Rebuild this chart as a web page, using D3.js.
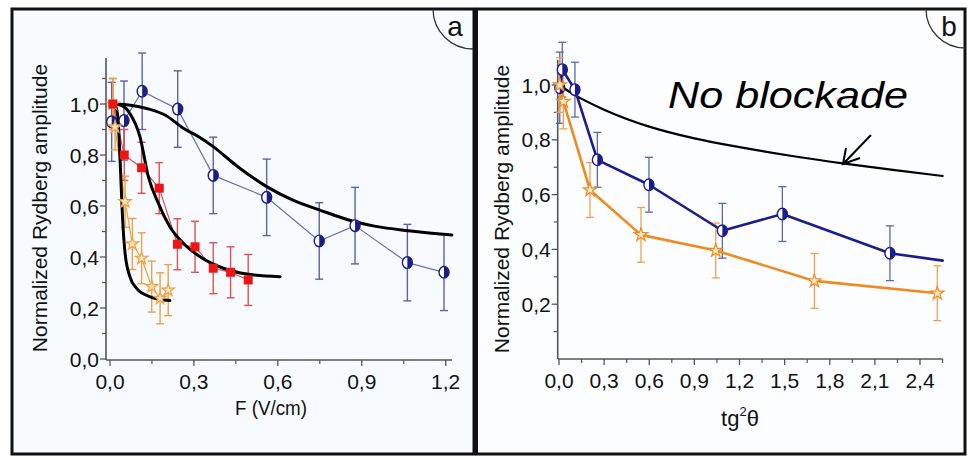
<!DOCTYPE html>
<html><head><meta charset="utf-8">
<script src="https://cdn.jsdelivr.net/npm/d3@7"></script>
<style>
html,body{margin:0;padding:0;background:#fff;}
svg{display:block;}
text{font-family:"Liberation Sans",Arial,sans-serif;}
</style></head>
<body>
<svg id="chart" width="967" height="456"></svg>
<script>
// ---------- Panel a data ----------
const aBlueX = [0.006, 0.05, 0.115, 0.242, 0.369, 0.56, 0.748, 0.876, 1.063, 1.194];
const aBlueY = [0.93, 0.935, 1.05, 0.98, 0.72, 0.634, 0.463, 0.523, 0.378, 0.34];
const aBlueErr = [0.155, 0.155, 0.15, 0.15, 0.15, 0.15, 0.15, 0.15, 0.15, 0.15];

const aRedX = [0.01, 0.051, 0.113, 0.176, 0.241, 0.304, 0.369, 0.431, 0.494];
const aRedY = [1.0, 0.80, 0.75, 0.67, 0.45, 0.44, 0.356, 0.34, 0.31];
const aRedErr = [0.1, 0.1, 0.1, 0.1, 0.1, 0.1, 0.1, 0.1, 0.1];

const aOrX = [0.01, 0.018, 0.054, 0.08, 0.113, 0.149, 0.179, 0.208];
const aOrY = [1.0, 0.91, 0.617, 0.451, 0.395, 0.284, 0.238, 0.27];
const aOrErr = [0.1, 0.09, 0.1, 0.1, 0.1, 0.1, 0.1, 0.1];

const aFit1X = [0.01, 0.05, 0.1, 0.143, 0.2, 0.262, 0.32, 0.369, 0.45, 0.56, 0.65, 0.75, 0.876, 0.95, 1.066, 1.15, 1.222];
const aFit1Y = [1.0, 0.998, 0.99, 0.979, 0.955, 0.905, 0.87, 0.833, 0.76, 0.676, 0.625, 0.584, 0.538, 0.52, 0.503, 0.493, 0.486];
const aFit2X = [0.01, 0.04, 0.071, 0.107, 0.137, 0.173, 0.214, 0.262, 0.322, 0.405, 0.489, 0.608];
const aFit2Y = [1.0, 0.995, 0.963, 0.872, 0.715, 0.61, 0.519, 0.454, 0.401, 0.356, 0.333, 0.323];
const aFit3X = [0.01, 0.02, 0.028, 0.033, 0.038, 0.045, 0.054, 0.071, 0.095, 0.143, 0.214];
const aFit3Y = [1.0, 0.99, 0.95, 0.86, 0.73, 0.55, 0.414, 0.323, 0.277, 0.244, 0.229];

const aXTicks = [0, 0.3, 0.6, 0.9, 1.2];
const aXMinor = [0.15, 0.45, 0.75, 1.05];
const aYTicks = [0, 0.2, 0.4, 0.6, 0.8, 1.0];
const aYMinor = [0.1, 0.3, 0.5, 0.7, 0.9, 1.1];

// ---------- Panel b data ----------
const bBlueX = [0.005, 0.022, 0.106, 0.255, 0.598, 1.086, 1.485, 2.2, 2.551];
const bBlueY = [0.99, 1.056, 0.983, 0.727, 0.636, 0.468, 0.529, 0.386, 0.359];
const bBlueErr = [0.13, 0.1, 0.1, 0.1, 0.1, 0.1, 0.1, 0.1, null];

const bOrX = [0.005, 0.029, 0.206, 0.545, 1.042, 1.698, 2.515];
const bOrY = [1.0, 0.94, 0.617, 0.453, 0.396, 0.285, 0.24];
const bOrErr = [0.1, 0.1, 0.1, 0.1, 0.1, 0.1, 0.1];

const bNoBX = [0, 0.1, 0.3, 0.6, 0.9, 1.2, 1.55, 1.886, 2.22, 2.551];
const bNoBY = [1.0, 0.965, 0.91, 0.848, 0.805, 0.773, 0.741, 0.714, 0.69, 0.668];

const bXTicks = [0, 0.3, 0.6, 0.9, 1.2, 1.5, 1.8, 2.1, 2.4];
const bXMinor = [0.15, 0.45, 0.75, 1.05, 1.35, 1.65, 1.95, 2.25, 2.55];
const bYTicks = [0.2, 0.4, 0.6, 0.8, 1.0];
const bYMinor = [0.1, 0.3, 0.5, 0.7, 0.9];

const fmt = v => d3.format(".1f")(v).replace(".", ",");

const svg = d3.select("#chart");

// frames
svg.append("rect").attr("x", 12).attr("y", 9).attr("width", 462).attr("height", 445)
  .attr("fill", "#f7fbff").attr("stroke", "#111").attr("stroke-width", 3);
svg.append("rect").attr("x", 476.5).attr("y", 9).attr("width", 488.5).attr("height", 445)
  .attr("fill", "#fbfdff").attr("stroke", "#111").attr("stroke-width", 3);

// corner labels
function corner(cx, cy, r, label, lx) {
  svg.append("path")
    .attr("d", `M${cx - r},${cy} A${r},${r} 0 0 0 ${cx},${cy + r}`)
    .attr("fill", "none").attr("stroke", "#333").attr("stroke-width", 1.3);
  svg.append("text").attr("x", lx).attr("y", 36).attr("text-anchor", "middle")
    .attr("font-size", 28).attr("fill", "#111").text(label);
}
corner(473, 9, 40, "a", 455);
corner(965, 9, 39, "b", 949);

function drawAxes(g, xs, ys, xDom, yDom, xT, xM, yT, yM) {
  const axisColor = "#555";
  const x0 = xs(xDom[0]), x1 = xs(xDom[1]), y0 = ys(yDom[0]), y1 = ys(yDom[1]);
  g.append("line").attr("x1", x0).attr("x2", x0).attr("y1", y0).attr("y2", y1)
    .attr("stroke", axisColor).attr("stroke-width", 1.6);
  g.append("line").attr("x1", x0).attr("x2", x1).attr("y1", y0).attr("y2", y0)
    .attr("stroke", axisColor).attr("stroke-width", 1.6);
  xT.forEach(v => {
    g.append("line").attr("x1", xs(v)).attr("x2", xs(v)).attr("y1", y0).attr("y2", y0 + 6)
      .attr("stroke", axisColor).attr("stroke-width", 1.3);
    g.append("text").attr("x", xs(v)).attr("y", y0 + 29).attr("text-anchor", "middle")
      .attr("font-size", 21).attr("fill", "#111").text(fmt(v));
  });
  xM.forEach(v => {
    g.append("line").attr("x1", xs(v)).attr("x2", xs(v)).attr("y1", y0).attr("y2", y0 + 4)
      .attr("stroke", axisColor).attr("stroke-width", 1.2);
  });
  yT.forEach(v => {
    g.append("line").attr("x1", x0 - 6).attr("x2", x0).attr("y1", ys(v)).attr("y2", ys(v))
      .attr("stroke", axisColor).attr("stroke-width", 1.3);
    g.append("text").attr("x", x0 - 7).attr("y", ys(v) + 7.5).attr("text-anchor", "end")
      .attr("font-size", 21).attr("fill", "#111").text(fmt(v));
  });
  yM.forEach(v => {
    g.append("line").attr("x1", x0 - 4).attr("x2", x0).attr("y1", ys(v)).attr("y2", ys(v))
      .attr("stroke", axisColor).attr("stroke-width", 1.2);
  });
}

function errorBars(g, xs, ys, X, Y, E, color, w) {
  X.forEach((x, i) => {
    if (E[i] == null) return;
    const px = xs(x), top = ys(Y[i] + E[i]), bot = ys(Y[i] - E[i]);
    g.append("line").attr("x1", px).attr("x2", px).attr("y1", top).attr("y2", bot)
      .attr("stroke", color).attr("stroke-width", w);
    [top, bot].forEach(yy => g.append("line").attr("x1", px - 4).attr("x2", px + 4)
      .attr("y1", yy).attr("y2", yy).attr("stroke", color).attr("stroke-width", w));
  });
}

function polyline(g, xs, ys, X, Y, color, w, curve) {
  const line = d3.line().x(d => xs(d[0])).y(d => ys(d[1])).curve(curve || d3.curveLinear);
  g.append("path").attr("d", line(X.map((x, i) => [x, Y[i]])))
    .attr("fill", "none").attr("stroke", color).attr("stroke-width", w)
    .attr("stroke-linejoin", "round").attr("stroke-linecap", "round");
}

function halfCircles(g, xs, ys, X, Y, E, color, r) {
  X.forEach((x, i) => {
    if (E && E[i] == null) return;
    const px = xs(x), py = ys(Y[i]);
    g.append("ellipse").attr("cx", px).attr("cy", py).attr("rx", r).attr("ry", r + 0.8)
      .attr("fill", "#fff").attr("stroke", color).attr("stroke-width", 1.4);
    g.append("path")
      .attr("d", `M${px},${py - r - 0.8} A${r},${r + 0.8} 0 0 1 ${px},${py + r + 0.8} Z`)
      .attr("fill", color);
  });
}

function squares(g, xs, ys, X, Y, color, s) {
  X.forEach((x, i) => {
    g.append("rect").attr("x", xs(x) - s / 2).attr("y", ys(Y[i]) - s / 2)
      .attr("width", s).attr("height", s).attr("fill", color);
  });
}

function stars(g, xs, ys, X, Y, color, size) {
  const sym = d3.symbol().type(d3.symbolStar).size(size);
  X.forEach((x, i) => {
    g.append("path").attr("d", sym()).attr("transform", `translate(${xs(x)},${ys(Y[i])})`)
      .attr("fill", "#fde6c4").attr("stroke", color).attr("stroke-width", 1.2);
  });
}

// ---------- Panel a ----------
const ga = svg.append("g");
const xa = d3.scaleLinear().domain([0, 1.2]).range([110, 445.7]);
const ya = d3.scaleLinear().domain([0, 1]).range([359, 104]);
drawAxes(ga, xa, ya, [-0.0143, 1.2225], [-0.004, 1.18], aXTicks, aXMinor, aYTicks, aYMinor);

ga.append("text").attr("transform", "translate(47,208) rotate(-90)").attr("text-anchor", "middle")
  .attr("font-size", 21).attr("fill", "#111").text("Normalized Rydberg amplitude");
ga.append("text").attr("x", 271).attr("y", 415).attr("text-anchor", "middle")
  .attr("font-size", 21).attr("fill", "#111")
  .attr("textLength", 72).attr("lengthAdjust", "spacingAndGlyphs").text("F (V/cm)");

const aBlueC = "#1d1d86", aBlueL = "#6a70b4", aRedC = "#ee1515", aRedL = "#e25050", aOrC = "#f0a040";
errorBars(ga, xa, ya, aBlueX, aBlueY, aBlueErr, "#5b62a8", 1.4);
errorBars(ga, xa, ya, aRedX, aRedY, aRedErr, aRedL, 1.4);
errorBars(ga, xa, ya, aOrX, aOrY, aOrErr, aOrC, 1.4);
polyline(ga, xa, ya, aBlueX, aBlueY, aBlueL, 1.2);
polyline(ga, xa, ya, aRedX, aRedY, aRedL, 1.2);
polyline(ga, xa, ya, aOrX, aOrY, aOrC, 1.2);
polyline(ga, xa, ya, aFit1X, aFit1Y, "#000", 3, d3.curveMonotoneX);
polyline(ga, xa, ya, aFit2X, aFit2Y, "#000", 3, d3.curveMonotoneX);
polyline(ga, xa, ya, aFit3X, aFit3Y, "#000", 3, d3.curveMonotoneX);
halfCircles(ga, xa, ya, aBlueX, aBlueY, null, aBlueC, 5);
stars(ga, xa, ya, aOrX, aOrY, aOrC, 48);
squares(ga, xa, ya, aRedX, aRedY, aRedC, 9);

// ---------- Panel b ----------
const gb = svg.append("g");
const xb = d3.scaleLinear().domain([0, 2.4]).range([559, 920]);
const yb = d3.scaleLinear().domain([0, 1]).range([359, 85]);
drawAxes(gb, xb, yb, [-0.0086, 2.551], [0, 1.092], bXTicks, bXMinor, bYTicks, bYMinor);

gb.append("text").attr("transform", "translate(509,209) rotate(-90)").attr("text-anchor", "middle")
  .attr("font-size", 21).attr("fill", "#111").text("Normalized Rydberg amplitude");
const tl = gb.append("text").attr("x", 740).attr("y", 426).attr("text-anchor", "middle")
  .attr("font-size", 22).attr("fill", "#111");
tl.append("tspan").text("tg");
tl.append("tspan").attr("font-size", 13).attr("dy", -10).text("2");
tl.append("tspan").attr("dy", 10).text("θ");

const bBlueC = "#1c1c8c", bOrC = "#f08a20";
polyline(gb, xb, yb, bNoBX, bNoBY, "#000", 2.2, d3.curveMonotoneX);
errorBars(gb, xb, yb, bBlueX, bBlueY, bBlueErr, "#5b68a8", 1.3);
errorBars(gb, xb, yb, bOrX, bOrY, bOrErr, "#f0a050", 1.3);
polyline(gb, xb, yb, bOrX, bOrY, bOrC, 2.6);
polyline(gb, xb, yb, bBlueX, bBlueY, bBlueC, 2.6);
halfCircles(gb, xb, yb, bBlueX, bBlueY, bBlueErr, bBlueC, 5);
stars(gb, xb, yb, bOrX, bOrY, bOrC, 55);

// annotation
gb.append("text").attr("x", 668).attr("y", 108).attr("font-size", 36)
  .attr("font-style", "italic").attr("fill", "#000")
  .attr("font-family", "'Comic Sans MS','DejaVu Sans',sans-serif")
  .attr("textLength", 240).attr("lengthAdjust", "spacingAndGlyphs").text("No blockade");
gb.append("path").attr("d", "M871,135 L843,164 M846,148 L843,164 L860,158")
  .attr("fill", "none").attr("stroke", "#000").attr("stroke-width", 2).attr("stroke-linejoin", "miter");
</script>
</body></html>
